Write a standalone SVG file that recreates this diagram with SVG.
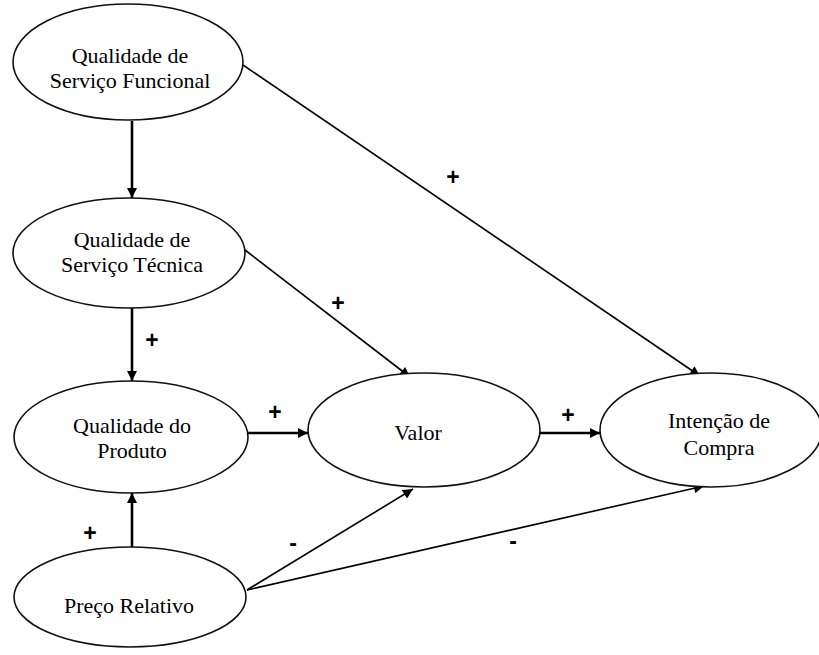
<svg xmlns="http://www.w3.org/2000/svg" width="819" height="655" viewBox="0 0 819 655">
  <defs>
    <marker id="arrow" viewBox="0 0 10 10" refX="10" refY="5" markerWidth="11" markerHeight="10" markerUnits="userSpaceOnUse" orient="auto">
      <path d="M0,0 L10,5 L0,10 Z" fill="#000"/>
    </marker>
    <style>
      .node ellipse { fill: #fff; stroke: #111; stroke-width: 1.6; }
      .node text { font-family: 'Liberation Serif', 'Times New Roman', serif; font-size: 22px; fill: #000; text-anchor: middle; }
      .edge { stroke: #000; fill: none; marker-end: url(#arrow); }
      .thick { stroke-width: 2.6; }
      .thin { stroke-width: 1.6; }
      .sign { font-family: 'Liberation Sans', Arial, sans-serif; font-size: 23px; font-weight: bold; fill: #000; text-anchor: middle; }
    </style>
  </defs>
  <rect width="819" height="655" fill="#fff"/>

  <!-- connectors -->
  <g id="connectors">
    <line class="edge thick" x1="132" y1="121" x2="132" y2="198"/>
    <line class="edge thick" x1="132" y1="308" x2="132" y2="381"/>
    <line class="edge thick" x1="132" y1="547" x2="132" y2="493"/>
    <line class="edge thick" x1="248" y1="433" x2="308" y2="433"/>
    <line class="edge thick" x1="540" y1="433" x2="600" y2="433"/>
    <line class="edge thin" x1="243" y1="65" x2="700" y2="376"/>
    <line class="edge thin" x1="245" y1="250" x2="410" y2="377"/>
    <line class="edge thin" x1="247" y1="590" x2="413" y2="489"/>
    <line class="edge thin" x1="247" y1="590" x2="704" y2="486"/>

    <text class="sign" x="453" y="185">+</text>
    <text class="sign" x="338" y="311">+</text>
    <text class="sign" x="152" y="348">+</text>
    <text class="sign" x="275" y="420">+</text>
    <text class="sign" x="568" y="423">+</text>
    <text class="sign" x="90" y="541">+</text>
    <text class="sign" x="293" y="551">-</text>
    <text class="sign" x="513" y="549">-</text>
  </g>

  <!-- nodes -->
  <g id="funcional" class="node">
    <ellipse cx="128" cy="62" rx="115" ry="58"/>
    <text x="130" y="63">Qualidade de</text>
    <text x="130" y="88">Serviço Funcional</text>
  </g>
  <g id="tecnica" class="node">
    <ellipse cx="129" cy="253" rx="116" ry="55"/>
    <text x="132" y="247">Qualidade de</text>
    <text x="132" y="272">Serviço Técnica</text>
  </g>
  <g id="produto" class="node">
    <ellipse cx="131" cy="437" rx="117" ry="56"/>
    <text x="132" y="433">Qualidade do</text>
    <text x="132" y="458">Produto</text>
  </g>
  <g id="preco" class="node">
    <ellipse cx="130" cy="597" rx="116" ry="50"/>
    <text x="129" y="613">Preço Relativo</text>
  </g>
  <g id="valor" class="node">
    <ellipse cx="424" cy="430" rx="116" ry="57"/>
    <text x="418" y="440">Valor</text>
  </g>
  <g id="intencao" class="node">
    <ellipse cx="711" cy="430" rx="111" ry="57"/>
    <text x="719" y="428">Intenção de</text>
    <text x="719" y="455">Compra</text>
  </g>
</svg>
